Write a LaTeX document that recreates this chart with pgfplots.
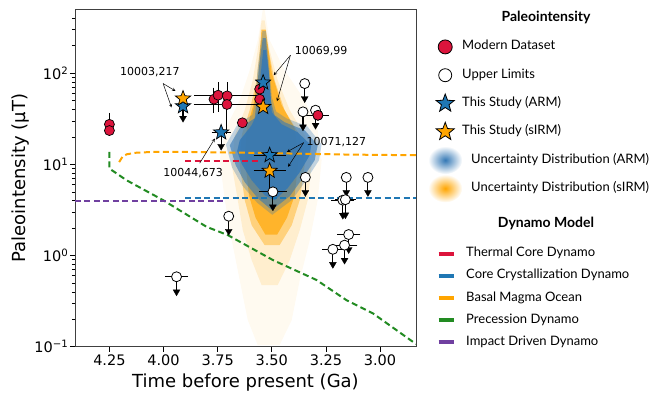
\documentclass[border=0pt]{standalone}
\usepackage{fontspec}
\setmainfont{DejaVu Sans}
\newfontfamily\legfont{Lato}
\usepackage{pgfplots}
\pgfplotsset{compat=1.18}

\definecolor{crimson}{HTML}{DC143C}
\definecolor{tabblue}{HTML}{1F77B4}
\definecolor{cloudblue}{HTML}{3478B5}
\definecolor{orng}{HTML}{FFA500}
\definecolor{dgreen}{HTML}{228B22}
\definecolor{purp}{HTML}{7040A0}

\pgfdeclareplotmark{fstar}{%
 \pgfpathmoveto{\pgfpointpolar{90}{\pgfplotmarksize}}%
 \pgfpathlineto{\pgfpointpolar{126}{0.42\pgfplotmarksize}}%
 \pgfpathlineto{\pgfpointpolar{162}{\pgfplotmarksize}}%
 \pgfpathlineto{\pgfpointpolar{198}{0.42\pgfplotmarksize}}%
 \pgfpathlineto{\pgfpointpolar{234}{\pgfplotmarksize}}%
 \pgfpathlineto{\pgfpointpolar{270}{0.42\pgfplotmarksize}}%
 \pgfpathlineto{\pgfpointpolar{306}{\pgfplotmarksize}}%
 \pgfpathlineto{\pgfpointpolar{342}{0.42\pgfplotmarksize}}%
 \pgfpathlineto{\pgfpointpolar{18}{\pgfplotmarksize}}%
 \pgfpathlineto{\pgfpointpolar{54}{0.42\pgfplotmarksize}}%
 \pgfpathclose
 \pgfusepathqfillstroke}

\tikzset{dyn/.style={line width=2pt, dash pattern={on 6pt off 3.5pt}}}
\pgfplotsset{shaft/.style={black, only marks, mark=none, forget plot,
 error bars/.cd, y dir=minus, y explicit, error mark=triangle*,
 error mark options={mark size=0.1pt, fill=black},
 error bar style={line width=1.1pt, black}},
 head/.style={only marks, mark=triangle*, mark size=4pt,
 mark options={rotate=180, fill=black, draw=black, line width=0.3pt}, forget plot}}

\begin{document}
\begin{tikzpicture}
\begin{axis}[
 name=main, scale only axis, width=341pt, height=337.2pt,
 ymode=log, ymin=0.1, ymax=500, xmin=2.834, xmax=4.409, x dir=reverse,
 xtick={3,3.25,3.5,3.75,4,4.25}, xticklabels={3.00,3.25,3.50,3.75,4.00,4.25},
 ytick={0.1,1,10,100},
 yticklabels={10\textsuperscript{−1},10\textsuperscript{0},10\textsuperscript{1},10\textsuperscript{2}},
 minor ytick={0.2,0.3,0.4,0.5,0.6,0.7,0.8,0.9,2,3,4,5,6,7,8,9,20,30,40,50,60,70,80,90,200,300,400},
 tick align=outside, tick pos=left,
 major tick length=5pt, minor tick length=3pt,
 every tick/.style={black, line width=0.8pt},
 minor tick style={line width=0.6pt},
 axis line style={black!75, line width=0.8pt},
 ticklabel style={font=\fontsize{14.5}{16}\selectfont},
 xticklabel style={inner sep=2.5pt},
 yticklabel style={inner sep=1.5pt},
 xlabel={Time before present (Ga)}, ylabel={Paleointensity (μT)},
 label style={font=\fontsize{18}{20}\selectfont},
 xlabel style={at={(axis description cs:0.5,-0.106)}, anchor=center},
 ylabel style={at={(axis description cs:-0.161,0.5)}, anchor=center},
]
% ---- orange uncertainty cloud (sIRM)
\addplot[fill=orng, draw=none, opacity=0.06, forget plot] coordinates {
 (3.542,491) (3.565,230) (3.602,108) (3.648,50.6) (3.717,23.7) (3.740,11.1)
 (3.717,4.05) (3.685,1.47) (3.648,0.537) (3.611,0.196) (3.565,0.104)
 (3.464,0.104) (3.408,0.196) (3.371,0.537) (3.325,1.47) (3.288,4.05)
 (3.270,11.1) (3.288,23.7) (3.348,50.6) (3.441,108) (3.510,230) (3.533,491)};
\addplot[fill=orng, draw=none, opacity=0.14, forget plot] coordinates {
 (3.547,381) (3.565,179) (3.588,83.8) (3.625,39.3) (3.671,20.9) (3.685,9.8)
 (3.657,4.05) (3.634,1.90) (3.593,0.891) (3.547,0.473) (3.473,0.473)
 (3.417,0.891) (3.371,1.90) (3.334,4.05) (3.316,9.8) (3.348,20.9)
 (3.417,39.3) (3.473,83.8) (3.510,179) (3.533,381)};
\addplot[fill=orng, draw=none, opacity=0.4, forget plot] coordinates {
 (3.551,230) (3.570,83.8) (3.602,39.3) (3.639,20.9) (3.648,9.8) (3.625,4.05)
 (3.593,2.15) (3.533,1.30) (3.464,1.30) (3.408,2.15) (3.371,4.05)
 (3.348,9.8) (3.371,20.9) (3.441,39.3) (3.487,83.8) (3.524,230)};
\addplot[fill=orng, draw=none, opacity=0.65, forget plot] coordinates {
 (3.548,300) (3.560,100) (3.585,45) (3.615,25) (3.625,12) (3.605,4.5)
 (3.575,2.6) (3.530,1.7) (3.475,1.7) (3.430,2.6) (3.395,4.5)
 (3.375,12) (3.395,25) (3.455,45) (3.500,100) (3.528,300)};
% ---- blue uncertainty cloud (ARM)
\addplot[fill=cloudblue, draw=none, opacity=0.3, forget plot] coordinates {
 (3.543,290) (3.566,110) (3.577,50) (3.590,35) (3.660,27) (3.712,16.5)
 (3.684,9.3) (3.635,5.8) (3.568,3.8) (3.498,2.8) (3.405,4.1) (3.340,6.8)
 (3.282,11.1) (3.270,16.5) (3.335,26) (3.432,32) (3.480,38)
 (3.500,55) (3.510,110) (3.527,290)};
\addplot[fill=cloudblue, draw=none, opacity=0.6, forget plot] coordinates {
 (3.542,242) (3.561,108) (3.570,50.6) (3.579,32.1) (3.648,24.9) (3.694,16.2)
 (3.667,9.8) (3.625,6.38) (3.565,4.26) (3.500,3.15) (3.417,4.48) (3.357,7.06)
 (3.302,11.1) (3.288,16.2) (3.348,23.7) (3.441,29.0) (3.487,34.6)
 (3.505,50.6) (3.514,108) (3.528,242)};
\addplot[fill=cloudblue, draw=none, opacity=0.85, forget plot] coordinates {
 (3.540,179) (3.554,83.8) (3.561,39.3) (3.593,26.9) (3.648,18.4) (3.660,14)
 (3.639,10.1) (3.593,6.71) (3.533,4.59) (3.487,4.05) (3.427,5.48) (3.371,8.2)
 (3.325,12.6) (3.318,16.2) (3.381,22.5) (3.455,27.6) (3.500,37.3) (3.510,83.8) (3.526,179)};
% ---- dynamo models
\addplot[crimson, dyn, forget plot]
 coordinates {(3.90,11) (3.565,11)};
\addplot[tabblue, dyn, forget plot]
 coordinates {(3.90,4.33) (2.834,4.33)};
\addplot[orng, dyn, forget plot]
 coordinates {(4.205,10.6) (4.19,12.1) (4.17,12.9) (4.13,13.4) (4.05,13.7)
 (3.9,13.7) (3.6,13.4) (3.37,13.1) (3.14,12.8) (2.834,12.6)};
\addplot[dgreen, dyn, forget plot]
 coordinates {(4.25,13.7) (4.25,9.0) (4.171,6.7) (4.002,4.05) (3.802,2.07)
 (3.702,1.67) (3.494,0.89) (3.294,0.54) (3.156,0.325) (3.033,0.232) (2.834,0.107)};
\addplot[purp, dyn, forget plot]
 coordinates {(4.409,3.95) (3.725,3.95)};
% ---- modern dataset
\addplot[black, only marks, mark=*, mark size=5pt,
 mark options={fill=crimson, draw=black, line width=0.7pt}, forget plot,
 error bars/.cd, x dir=both, x explicit, y dir=both, y explicit,
 error bar style={line width=1pt, black}, error mark options={mark size=3pt, line width=1pt, black}]
 coordinates {
 (4.25,27.5) += (0,6.5) -= (0,0)
 (4.25,23.5) +- (0,0)
 (3.767,51.9) +- (0,12.6)
 (3.748,57.4) +- (0,16.4)
 (3.706,56.4) += (0.14,17.4) -= (0.14,0)
 (3.707,45.4) += (0.14,0) -= (0.14,22)
 (3.636,28.6) +- (0,0)
 (3.556,66.9) +- (0,0)
 (3.556,51.9) +- (0,0)
 (3.287,34.6) +- (0.037,0)
 };
% ---- upper limits: arrows (shaft + head), x errors, circles
\addplot[shaft] coordinates {
 (3.94,0.585) -= (0,0.185)
 (3.699,2.7) -= (0,0.853)
 (3.495,5.0) -= (0,1.58)
 (3.348,77) -= (0,24.3)
 (3.356,37.7) -= (0,11.9)
 (3.298,39.3) -= (0,12.4)
 (3.345,7.2) -= (0,2.28)
 (3.156,7.2) -= (0,2.28)
 (3.056,7.2) -= (0,2.28)
 (3.172,4.05) -= (0,1.28)
 (3.16,4.1) -= (0,1.30)
 (3.145,1.70) -= (0,0.537)
 (3.164,1.30) -= (0,0.411)
 (3.218,1.17) -= (0,0.370)
 };
\addplot[head] coordinates {
 (3.94,0.400) (3.699,1.847) (3.495,3.42) (3.348,52.7) (3.356,25.8) (3.298,26.9)
 (3.345,4.92) (3.156,4.92) (3.056,4.92) (3.172,2.77) (3.16,2.80)
 (3.145,1.163) (3.164,0.889) (3.218,0.800)
 };
\addplot[black, only marks, mark=none, forget plot,
 error bars/.cd, x dir=both, x explicit,
 error bar style={line width=1pt, black}, error mark options={mark size=3pt, line width=1pt, black}]
 coordinates {
 (3.94,0.585) +- (0.04,0)
 (3.495,5.0) +- (0.05,0)
 (3.172,4.05) +- (0.04,0)
 (3.16,4.1) +- (0.035,0)
 (3.145,1.70) +- (0.04,0)
 (3.164,1.30) +- (0.045,0)
 (3.218,1.17) +- (0.035,0)
 };
\addplot[only marks, mark=*, mark size=5pt,
 mark options={fill=white, draw=black, line width=0.8pt}, forget plot]
 coordinates {
 (3.94,0.585) (3.699,2.7) (3.495,5.0) (3.348,77) (3.356,37.7) (3.298,39.3)
 (3.345,7.2) (3.156,7.2) (3.056,7.2) (3.172,4.05) (3.16,4.1)
 (3.145,1.70) (3.164,1.30) (3.218,1.17)
 };
\addplot[only marks, mark=*, mark size=5pt,
 mark options={fill=crimson, draw=black, line width=0.7pt}, forget plot]
 coordinates {(3.287,34.6)};
% ---- this study: error bars / arrows
\addplot[shaft] coordinates {
 (3.91,43.4) -= (0,11.3)
 (3.734,22.4) -= (0,6.6)
 };
\addplot[head] coordinates {(3.91,32.1) (3.734,15.8)};
\addplot[black, only marks, mark=none, forget plot,
 error bars/.cd, x dir=both, x explicit, y dir=minus, y explicit,
 error bar style={line width=1pt, black}, error mark options={mark size=3pt, line width=1pt, black}]
 coordinates {
 (3.734,22.4) += (0.03,0) -= (0.03,0)
 (3.51,12.6) += (0.06,0) -= (0.06,0)
 (3.51,8.5) += (0.06,0) -= (0.06,3.3)
 };
\addplot[only marks, mark=fstar, mark size=8pt,
 mark options={fill=tabblue, draw=black, line width=0.7pt}, forget plot]
 coordinates {(3.91,43.4) (3.734,22.4) (3.54,79) (3.51,12.6)};
\addplot[only marks, mark=fstar, mark size=8pt,
 mark options={fill=orng, draw=black, line width=0.7pt}, forget plot]
 coordinates {(3.91,52.8) (3.54,42.6) (3.51,8.5)};
% ---- annotations
\begin{scope}[font=\fontsize{11}{13}\selectfont]
\node at (axis cs:4.063,103.3) {10003,217};
\draw[-stealth, line width=0.5pt] (axis cs:4.002,77.1) -- (axis cs:3.945,63.9);
\draw[-stealth, line width=0.5pt] (axis cs:4.002,77.1) -- (axis cs:3.963,42.1);
\node[anchor=west, inner sep=0pt] at (axis cs:3.394,174) {10069,99};
\draw[-stealth, line width=0.5pt] (axis cs:3.414,157.5) -- (axis cs:3.491,95);
\draw[-stealth, line width=0.5pt] (axis cs:3.414,157.5) -- (axis cs:3.476,49.3);
\node[anchor=west, inner sep=0pt] at (axis cs:3.34,17.7) {10071,127};
\draw[-stealth, line width=0.5pt] (axis cs:3.353,17.3) -- (axis cs:3.430,13.7);
\draw[-stealth, line width=0.5pt] (axis cs:3.353,17.3) -- (axis cs:3.425,9.4);
\node at (axis cs:3.863,7.94) {10044,673};
\draw[-stealth, line width=0.5pt] (axis cs:3.833,10.3) -- (axis cs:3.763,19.2);
\end{scope}
\end{axis}

% ---- legend: paleointensity
\begin{axis}[at={(main.south west)}, anchor=south west, scale only axis,
 width=341pt, height=337.2pt, hide axis, xmin=0, xmax=1, ymin=0, ymax=1,
 legend style={at={(axis description cs:1.0499,0.9104)}, anchor=north west,
  draw=none, fill=none, inner sep=0pt, row sep=14.3pt, column sep=5pt,
  font=\legfont\fontsize{13}{15}\selectfont,
  nodes={inner sep=0pt, text height=9pt, text depth=3pt}},
 legend cell align=left,
 legend image code/.code={\path[draw=none, fill=none] (0pt,-7pt) rectangle (24pt,7pt);
  \draw[overlay, #1] plot coordinates {(12pt,0pt)};},
]
\addlegendimage{only marks, mark=*, mark size=7pt, mark options={fill=crimson, draw=black, line width=0.8pt}}
\addlegendentry{Modern Dataset}
\addlegendimage{only marks, mark=*, mark size=6.5pt, mark options={fill=white, draw=black, line width=0.8pt}}
\addlegendentry{Upper Limits}
\addlegendimage{only marks, mark=fstar, mark size=9.5pt, mark options={fill=tabblue, draw=black, line width=0.8pt}}
\addlegendentry{This Study (ARM)}
\addlegendimage{only marks, mark=fstar, mark size=9.5pt, mark options={fill=orng, draw=black, line width=0.8pt}}
\addlegendentry{This Study (sIRM)}
\addlegendimage{legend image code/.code={\path[draw=none, fill=none] (0pt,-7pt) rectangle (24pt,7pt);
  \shade[overlay, draw=none, inner color=cloudblue, outer color=white] (12pt,0pt) ellipse (17pt and 14pt);}}
\addlegendentry{\hspace*{9pt}Uncertainty Distribution (ARM)}
\addlegendimage{legend image code/.code={\path[draw=none, fill=none] (0pt,-7pt) rectangle (24pt,7pt);
  \shade[overlay, draw=none, inner color=orng, outer color=white] (12pt,0pt) ellipse (17pt and 14pt);}}
\addlegendentry{\hspace*{9pt}Uncertainty Distribution (sIRM)}
\end{axis}

% ---- legend: dynamo model
\begin{axis}[at={(main.south west)}, anchor=south west, scale only axis,
 width=341pt, height=337.2pt, hide axis, xmin=0, xmax=1, ymin=0, ymax=1,
 legend style={at={(axis description cs:1.0499,0.2966)}, anchor=north west,
  draw=none, fill=none, inner sep=0pt, row sep=8.1pt, column sep=9pt,
  font=\legfont\fontsize{13}{15}\selectfont,
  nodes={inner sep=0pt, text height=9pt, text depth=3pt}},
 legend cell align=left,
 legend image code/.code={\path[draw=none, fill=none] (0pt,-7pt) rectangle (24pt,7pt);
  \draw[#1] (5.5pt,0pt) -- (20.5pt,0pt);},
]
\addlegendimage{crimson, line width=4pt}
\addlegendentry{Thermal Core Dynamo}
\addlegendimage{tabblue, line width=4pt}
\addlegendentry{Core Crystallization Dynamo}
\addlegendimage{orng, line width=4pt}
\addlegendentry{Basal Magma Ocean}
\addlegendimage{dgreen, line width=4pt}
\addlegendentry{Precession Dynamo}
\addlegendimage{purp, line width=4pt}
\addlegendentry{Impact Driven Dynamo}
\end{axis}

\node[font=\legfont\bfseries\fontsize{14}{16}\selectfont] at ([shift={(471pt,329pt)}]main.south west) {Paleointensity};
\node[font=\legfont\bfseries\fontsize{14}{16}\selectfont] at ([shift={(471pt,123.4pt)}]main.south west) {Dynamo Model};

\pgfresetboundingbox
\path[use as bounding box] ([shift={(-75pt,-48.3pt)}]main.south west) rectangle ++(654pt,395pt);
\end{tikzpicture}
\end{document}
